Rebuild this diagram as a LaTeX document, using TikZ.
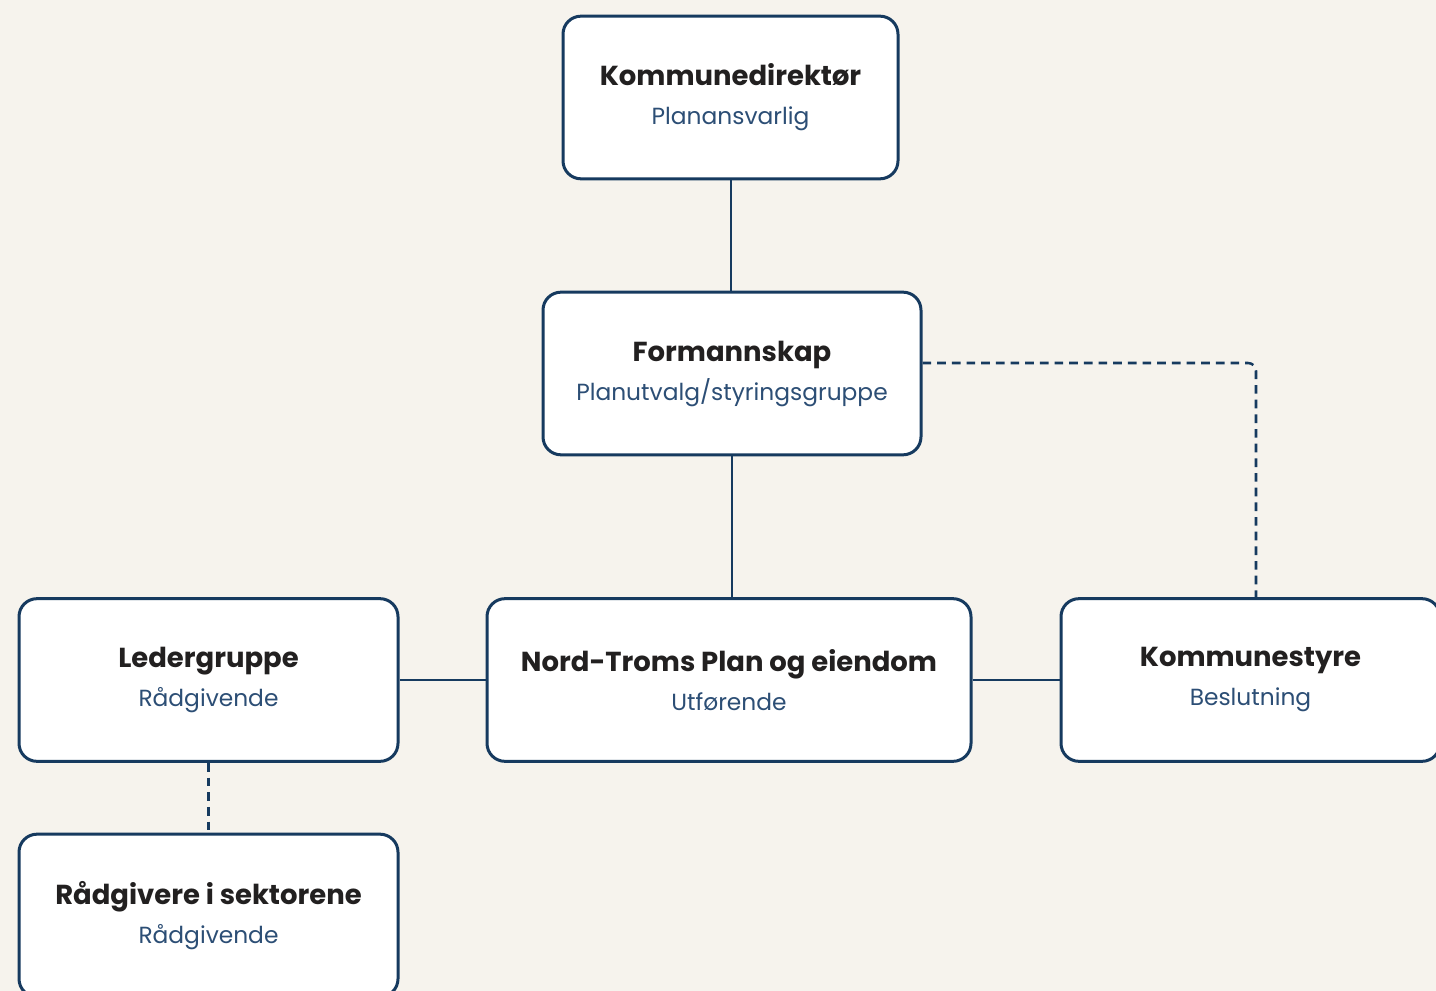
\documentclass[tikz,border=0pt]{standalone}
\usepackage{fontspec}
\setmainfont{Poppins}
\usepackage{xcolor}
\usepackage{tikz}

\definecolor{bgcream}{RGB}{246,243,237}
\definecolor{navy}{RGB}{22,58,95}
\definecolor{subblue}{RGB}{44,78,117}
\definecolor{titleblack}{RGB}{34,32,32}

\newcommand{\orgtitle}[1]{{\fontsize{20.6}{29.25}\selectfont\bfseries\color{titleblack}#1}}
\newcommand{\orgrole}[1]{{\fontsize{17.5}{29.25}\selectfont\color{subblue}#1}}

\begin{document}
\begin{tikzpicture}[x=0.75pt,y=0.75pt,yscale=-1,xscale=1,
    orgbox/.style={draw=navy, line width=2.25pt, fill=white, rounded corners=13.5pt, align=center, minimum height=122pt, inner sep=0pt, font=\fontsize{20.6}{29.25}\selectfont},
    link/.style={draw=navy, line width=1.5pt},
    dashlink/.style={draw=navy, line width=1.9pt, dash pattern=on 6.5pt off 4.5pt}]
        % background and page size
        \fill [bgcream] (0,0) rectangle (1436,991);
        \useasboundingbox (0,0) rectangle (1436,991);

        % boxes
        \node [orgbox, minimum width=251.25pt] (kdir) at (730.5,97.5) {\orgtitle{Kommunedirektør}\\\orgrole{Planansvarlig}};
        \node [orgbox, minimum width=283.5pt] (form) at (732,373.5) {\orgtitle{Formannskap}\\\orgrole{Planutvalg/styringsgruppe}};
        \node [orgbox, minimum width=363pt] (ntpe) at (729,680) {\orgtitle{Nord-Troms Plan og eiendom}\\\orgrole{Utførende}};
        \node [orgbox, minimum width=284.25pt] (leder) at (208.5,680) {\orgtitle{Ledergruppe}\\\orgrole{Rådgivende}};
        \node [orgbox, minimum width=284.25pt] (kstyre) at (1250.5,680) {\orgtitle{Kommunestyre}\\\orgrole{Beslutning}};
        \node [orgbox, minimum width=284.25pt] (radg) at (208.5,915.5) {\orgtitle{Rådgivere i sektorene}\\\orgrole{Rådgivende}};

        % connectors
        \coordinate (kcorner) at (1256,363);
        \draw [link] (kdir.south) -- (kdir.south |- form.north);
        \draw [link] (form.south) -- (form.south |- ntpe.north);
        \draw [link] (leder.east) -- (ntpe.west);
        \draw [link] (ntpe.east) -- (kstyre.west);
        \draw [dashlink, rounded corners=6pt] (form.east |- kcorner) -- (kcorner) -- (kcorner |- kstyre.north);
        \draw [dashlink] (leder.south) -- (radg.north);
\end{tikzpicture}
\end{document}
